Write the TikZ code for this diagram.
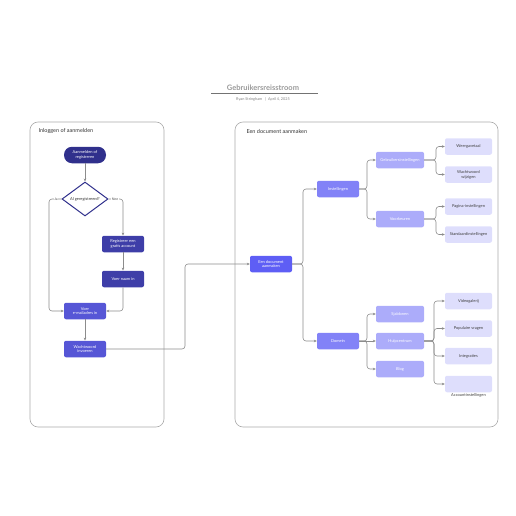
\documentclass[tikz,border=0pt]{standalone}
\usepackage{fontspec}
\setmainfont{Lato}
\usetikzlibrary{arrows.meta,shapes.geometric}
\definecolor{navy}{HTML}{30308C}
\definecolor{indA}{HTML}{3E3EA8}
\definecolor{indB}{HTML}{5656D6}
\definecolor{indC}{HTML}{5E5EF5}
\definecolor{indD}{HTML}{8282F7}
\definecolor{indE}{HTML}{ACACFA}
\definecolor{indF}{HTML}{DEDEFC}
\definecolor{lin}{HTML}{8C8C8C}
\definecolor{frame}{HTML}{ABABAB}
\tikzset{
  box/.style={rounded corners=2pt, minimum width=42pt, minimum height=16.5pt, inner sep=1pt, align=center, text=white, font=\fontsize{4}{4.8}\selectfont},
  boxA/.style={box, fill=indA},
  boxB/.style={box, fill=indB},
  boxC/.style={box, fill=indC},
  boxD/.style={box, fill=indD},
  boxE/.style={box, fill=indE, minimum width=48pt},
  boxF/.style={box, fill=indF, minimum width=47pt, text=black!75},
  conn/.style={draw=lin, line width=0.6pt, rounded corners=3pt, -{Stealth[length=3pt,width=2.6pt]}},
  plain/.style={draw=lin, line width=0.6pt, rounded corners=3pt},
  container/.style={draw=frame, line width=0.6pt, rounded corners=8pt},
  ctitle/.style={anchor=west, font=\fontsize{5.5}{6.5}\selectfont, text=black!80},
  lbl/.style={font=\fontsize{3.5}{4}\selectfont, text=black!70, fill=white, inner sep=0.5pt}
}
\begin{document}
\begin{tikzpicture}[x=1pt,y=-1pt]
\useasboundingbox (0,0) rectangle (516,516);
% title
\node (title) at (263,87.5) {\fontsize{7.5}{8}\selectfont\bfseries\color{black!40}Gebruikersreisstroom};
\draw[black!55, line width=0.6pt] (211,93) -- (318,93);
\node (sub) at (263,99) {\fontsize{3.8}{4.5}\selectfont\color{black!50}Ryan Stringham \enspace|\enspace April 4, 2025};
% containers
\draw[container] (30,122) rectangle (164,427);
\node[ctitle] (lt) at (35,131) {Inloggen of aanmelden};
\draw[container] (235,122) rectangle (498,427);
\node[ctitle] (rt) at (243,131) {Een document aanmaken};
% left nodes
\node[box, fill=navy, rounded corners=8pt] (start) at (85,155) {Aanmelden of\\registreren};
\node[diamond, draw=navy, line width=1pt, fill=white, minimum width=46pt, minimum height=34pt, inner sep=0pt, font=\fontsize{4}{4.8}\selectfont, text=black!80] (dec) at (85,199) {Al geregistreerd?};
\node[boxA] (reg) at (123,244) {Registreer een\\gratis account};
\node[boxA] (naam) at (123,279) {Voer naam in};
\node[boxB] (mail) at (85,311) {Voer\\e-mailadres in};
\node[boxB] (pw) at (85,349) {Wachtwoord\\invoeren};
\draw[conn] (start) -- (dec);
\draw[conn] (dec.east) -- (123,199) -- (reg.north);
\node[lbl] (nee) at (115,199) {Nee};
\draw[conn] (dec.west) -- (49,199) |- (mail.west);
\node[lbl] (ja) at (56,199) {Ja};
\draw[conn] (reg) -- (naam);
\draw[conn] (naam.south) |- (mail.east);
\draw[conn] (mail) -- (pw);
% right nodes
\node[boxC] (doc) at (271,264) {Een document\\aanmaken};
\draw[conn] (pw.east) -- (185,349) |- (doc.west);
\node[boxD] (inst) at (338,189) {Instellingen};
\node[boxD] (dom) at (338,341) {Domein};
\draw[conn] (doc.east) -- (303,264) |- (inst.west);
\draw[conn] (doc.east) -- (303,264) |- (dom.west);
\node[boxE] (gebr) at (400,160) {Gebruikersinstellingen};
\node[boxE] (voork) at (400,219) {Voorkeuren};
\draw[conn] (inst.east) -- (367,189) |- (gebr.west);
\draw[conn] (inst.east) -- (367,189) |- (voork.west);
\node[boxF] (weer) at (468.5,146.5) {Weergavetaal};
\node[boxF] (wacht) at (468.5,174.5) {Wachtwoord\\wijzigen};
\draw[conn] (gebr.east) -- (436,160) |- (weer.west);
\draw[conn] (gebr.east) -- (436,160) |- (wacht.west);
\node[boxF] (pag) at (468.5,206.5) {Pagina-instellingen};
\node[boxF] (stand) at (468.5,234.5) {Standaardinstellingen};
\draw[conn] (voork.east) -- (436,219) |- (pag.west);
\draw[conn] (voork.east) -- (436,219) |- (stand.west);
\node[boxE] (sjab) at (400,314) {Sjablonen};
\node[boxE] (hulp) at (400,341) {Hulpcentrum};
\node[boxE] (blog) at (400,369) {Blog};
\draw[conn] (dom.east) -- (367,341) |- (sjab.west);
\draw[conn] (dom.east) -- (hulp.west);
\draw[conn] (dom.east) -- (367,341) |- (blog.west);
\node[boxF] (video) at (468.5,301) {Videogalerij};
\node[boxF] (pop) at (468.5,328.5) {Populaire vragen};
\node[boxF] (integ) at (468.5,356) {Integraties};
\node[boxF] (acc) at (468.5,384) {};
\node[font=\fontsize{4}{4.8}\selectfont, text=black!75, anchor=north, inner sep=1pt] (accl) at (acc.south) {Accountinstellingen};
\draw[conn] (hulp.east) -- (434,341) |- (video.west);
\draw[conn] (hulp.east) -- (434,341) |- (pop.west);
\draw[conn] (hulp.east) -- (434,341) |- (integ.west);
\draw[conn] (hulp.east) -- (434,341) |- (acc.west);
\end{tikzpicture}
\end{document}
